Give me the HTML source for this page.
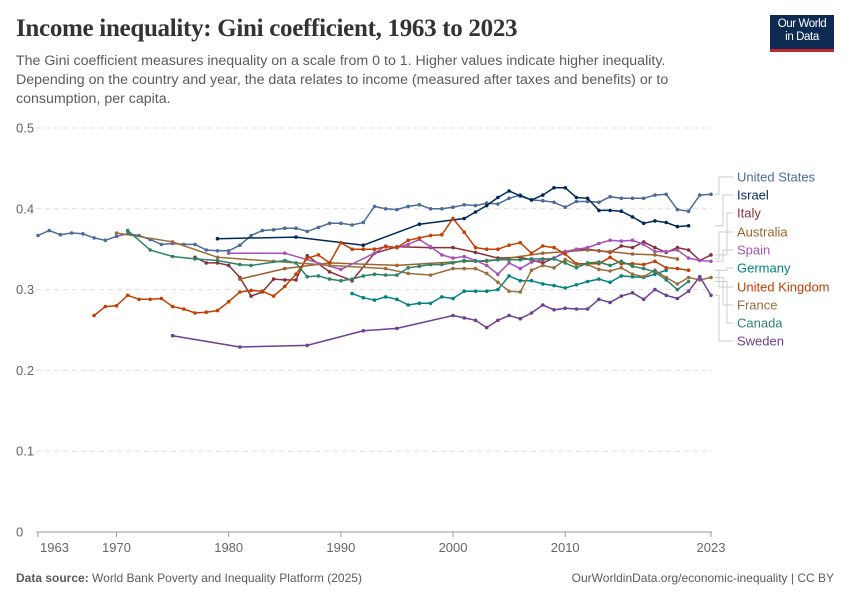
<!DOCTYPE html>
<html><head><meta charset="utf-8">
<style>
body{margin:0;background:#fff;width:850px;height:600px;overflow:hidden;font-family:"Liberation Sans",sans-serif;}
.t{position:absolute;left:16px;top:15px;font-family:"Liberation Serif",serif;font-size:25px;font-weight:bold;color:#333;letter-spacing:-0.3px}
.s{position:absolute;left:16px;top:52px;font-size:14.2px;line-height:19px;color:#5b5b5b;width:700px}
.logo{position:absolute;left:770px;top:15px;width:64px;height:37px;background:#0d2a53;color:#fff;font-size:11.5px;line-height:13px;text-align:center;padding-top:2px;box-sizing:border-box;border-bottom:3px solid #c0262e;letter-spacing:-0.4px}
.logo div{padding-top:1px}
svg{position:absolute;left:0;top:0}
</style></head><body>
<div class="t">Income inequality: Gini coefficient, 1963 to 2023</div>
<div class="s">The Gini coefficient measures inequality on a scale from 0 to 1. Higher values indicate higher inequality. Depending on the country and year, the data relates to income (measured after taxes and benefits) or to consumption, per capita.</div>
<div class="logo"><div>Our World<br>in Data</div></div>
<svg id="c" width="850" height="600" xmlns="http://www.w3.org/2000/svg" font-family="Liberation Sans, sans-serif"></svg>
<script>
const svg=document.getElementById('c');
const X=y=>38+(y-1963)*11.217, Y=v=>532-v*808;
let h='';
[0.1,0.2,0.3,0.4,0.5].forEach(v=>{h+=`<line x1="36" x2="712" y1="${Y(v)}" y2="${Y(v)}" stroke="#ddd" stroke-dasharray="5,4"/>`;h+=`<text x="16" y="${Y(v)+4.5}" font-size="13" fill="#666">${v}</text>`});
h+=`<line x1="36" x2="712" y1="532" y2="532" stroke="#999"/><text x="16" y="536.5" font-size="13" fill="#666">0</text>`;
[[1963,38],[1970,118],[1980,230],[1990,343],[2000,455],[2010,567],[2023,696]].forEach(([l,x])=>{h+=`<line x1="${X(l)}" x2="${X(l)}" y1="532" y2="537" stroke="#999"/><text x="${l==1963?40:X(l)}" y="552" font-size="13" fill="#666" text-anchor="${l==1963?'start':'middle'}">${l}</text>`});
function ser(c,start,vals){return vals.map((v,i)=>[start+i,v]).filter(p=>p[1]!=null)}
function pts(obj){return Object.entries(obj).map(([k,v])=>[+k,v])}
const S=[
['United States','#4c6a9c',ser(0,1963,[0.367,0.373,0.368,0.370,0.369,0.364,0.361,0.366,0.369,0.367,0.362,0.356,0.357,0.356,0.356,0.349,0.348,0.348,0.355,0.367,0.373,0.374,0.376,0.376,0.372,0.377,0.382,0.382,0.380,0.383,0.403,0.400,0.399,0.403,0.405,0.400,0.400,0.402,0.405,0.404,0.407,0.406,0.413,0.417,0.411,0.410,0.408,0.402,0.409,0.409,0.408,0.415,0.413,0.413,0.413,0.417,0.418,0.399,0.397,0.417,0.418])],
['Israel','#00295b',pts({1979:.363,1986:.365,1992:.355,1997:.381,2001:.388,2002:.396,2003:.404,2004:.414,2005:.422,2006:.416,2007:.411,2008:.417,2009:.426,2010:.426,2011:.414,2012:.413,2013:.398,2014:.398,2015:.397,2016:.390,2017:.382,2018:.385,2019:.383,2020:.378,2021:.379})],
['Italy','#883039',pts({1977:.340,1978:.333,1979:.333,1980:.330,1981:.315,1982:.292,1983:.297,1984:.313,1985:.312,1986:.312,1987:.342,1989:.322,1991:.311,1993:.345,1995:.353,1998:.352,2000:.352,2002:.346,2004:.339,2006:.340,2008:.333,2009:.339,2010:.346,2011:.349,2012:.350,2013:.348,2014:.346,2015:.354,2016:.352,2017:.359,2018:.352,2019:.346,2020:.352,2021:.349,2022:.336,2023:.343})],
['Australia','#a0622c',pts({1981:.313,1985:.326,1989:.333,1995:.330,2001:.335,2003:.335,2008:.345,2010:.347,2012:.349,2014:.347,2016:.344,2018:.343,2020:.338})],
['Spain','#a652ba',pts({1980:.345,1985:.345,1990:.325,1993:.345,1994:.354,1995:.352,1996:.356,1997:.362,1998:.353,1999:.343,2000:.339,2001:.341,2002:.336,2003:.330,2004:.319,2005:.333,2006:.326,2007:.334,2008:.337,2009:.339,2010:.347,2011:.350,2012:.352,2013:.357,2014:.361,2015:.360,2016:.361,2017:.356,2018:.347,2019:.347,2020:.349,2021:.339,2022:.336,2023:.335})],
['Germany','#00847e',pts({1991:.295,1992:.290,1993:.287,1994:.291,1995:.288,1996:.281,1997:.283,1998:.283,1999:.291,2000:.289,2001:.298,2002:.298,2003:.298,2004:.300,2005:.317,2006:.311,2007:.311,2008:.307,2009:.305,2010:.302,2011:.306,2012:.310,2013:.313,2014:.309,2015:.317,2016:.316,2017:.315,2018:.319,2019:.324})],
['United Kingdom','#c13f00',ser(0,1968,[.268,.279,.280,.293,.288,.288,.289,.279,.276,.271,.272,.274,.285,.297,.299,.298,.292,.304,.319,.339,.343,.333,.358,.350,.350,.350,.353,.352,.361,.364,.367,.368,.388,.371,.352,.350,.350,.355,.358,.345,.354,.352,.344,.332,.332,.332,.340,.332,.332,.331,.335,.327,.326,.324])],
['France','#9a6d3b',pts({1970:.370,1975:.359,1979:.340,1984:.335,1989:.330,1994:.326,1996:.320,1998:.318,2000:.326,2001:.326,2002:.326,2003:.320,2004:.309,2005:.298,2006:.297,2007:.324,2008:.330,2009:.327,2010:.337,2011:.331,2012:.331,2013:.325,2014:.323,2015:.327,2016:.319,2017:.316,2018:.324,2019:.315,2020:.307,2021:.315,2022:.312,2023:.315})],
['Canada','#2c8465',pts({1971:.373,1973:.349,1975:.341,1977:.338,1979:.336,1981:.331,1982:.330,1985:.336,1986:.333,1987:.316,1988:.317,1989:.313,1990:.311,1991:.313,1992:.317,1993:.319,1994:.318,1995:.318,1996:.327,1997:.329,1998:.331,1999:.331,2000:.333,2001:.336,2002:.335,2003:.336,2004:.337,2005:.337,2006:.337,2007:.338,2008:.338,2009:.338,2010:.333,2011:.327,2012:.333,2013:.334,2014:.330,2015:.335,2016:.329,2017:.326,2018:.322,2019:.312,2020:.300,2021:.310})],
['Sweden','#6d3e91',pts({1975:.243,1981:.229,1987:.231,1992:.249,1995:.252,2000:.268,2001:.265,2002:.262,2003:.253,2004:.262,2005:.268,2006:.264,2007:.271,2008:.281,2009:.275,2010:.277,2011:.276,2012:.276,2013:.288,2014:.284,2015:.292,2016:.296,2017:.288,2018:.300,2019:.293,2020:.289,2021:.298,2022:.316,2023:.293})]
];
S.forEach(([n,c,p])=>{h+=`<polyline fill="none" stroke="${c}" stroke-width="1.5" points="${p.map(q=>X(q[0]).toFixed(1)+','+Y(q[1]).toFixed(1)).join(' ')}"/>`;p.forEach(q=>{h+=`<circle cx="${X(q[0]).toFixed(1)}" cy="${Y(q[1]).toFixed(1)}" r="1.8" fill="${c}"/>`})});
const ly=[177,195,213,232,250,268,287,305,323,341];
S.forEach(([n,c,p],i)=>{const e=p[p.length-1];const ey=Y(e[1]);const mx=719+ (i%3)*4;
h+=`<polyline fill="none" stroke="#ccc" stroke-width="1" points="715,${ey.toFixed(1)} ${mx},${ey.toFixed(1)} ${mx},${ly[i]} 733,${ly[i]}"/>`;
h+=`<text x="737" y="${ly[i]+4.5}" font-size="13" fill="${c}">${n}</text>`});
h+=`<text x="16" y="582" font-size="12" fill="#5b5b5b"><tspan font-weight="bold">Data source:</tspan> World Bank Poverty and Inequality Platform (2025)</text>`;
h+=`<text x="834" y="582" font-size="12" fill="#5b5b5b" text-anchor="end">OurWorldinData.org/economic-inequality | CC BY</text>`;
svg.innerHTML=h;
</script>
</body></html>
